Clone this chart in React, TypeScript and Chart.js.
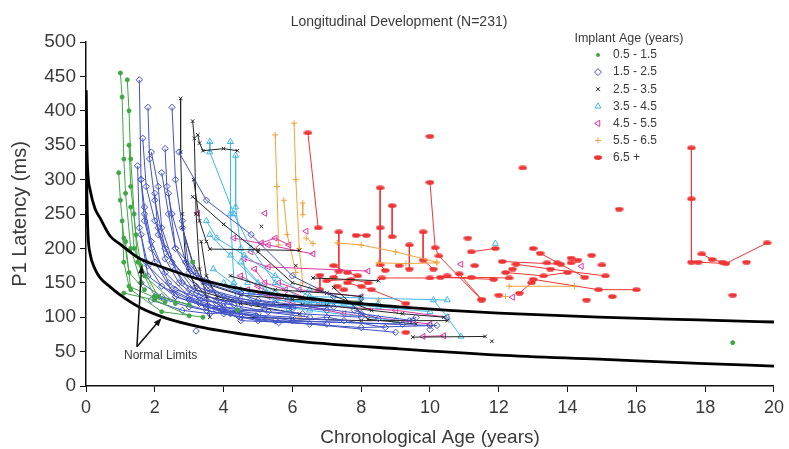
import React, { useEffect, useRef } from 'react';
import { Chart, registerables } from 'chart.js';

Chart.register(...registerables);

// ---------- Data (age in years, P1 latency in ms) ----------
const TITLE = 'Longitudinal Development (N=231)';
const X_TITLE = 'Chronological Age (years)';
const Y_TITLE = 'P1 Latency (ms)';
const LEGEND_TITLE = 'Implant Age (years)';
const NOTE_TEXT = 'Normal Limits';

const X_MIN = 0;
const X_MAX = 20;
const X_STEP = 2;
const Y_MIN = 0;
const Y_MAX = 500;
const Y_STEP = 50;

const groupLabels = ['0.5 - 1.5', '1.5 - 2.5', '2.5 - 3.5', '3.5 - 4.5', '4.5 - 5.5', '5.5 - 6.5', '6.5 +'];

const upperLimit = [
  [0, 430], [0.03, 340], [0.06, 305], [0.12, 285], [0.26, 258], [0.4, 245], [0.7, 218], [1.0, 206],
  [1.57, 185], [2.14, 174], [3.3, 155], [4.75, 139], [6.2, 129], [7.65, 121], [9.1, 115],
  [10.55, 110], [12, 106], [14.9, 100], [17.8, 96], [20, 93],
];

const lowerLimit = [
  [0, 430], [0.02, 300], [0.04, 250], [0.06, 218], [0.12, 192], [0.26, 170], [0.4, 158], [0.7, 144],
  [1.0, 132], [1.57, 114], [2.3, 99], [3.3, 86], [4.75, 74], [6.2, 65], [9.1, 54], [12, 45],
  [14.9, 39], [17.8, 33], [20, 29],
];

const green = [
  [[1.0, 455], [1.05, 420], [1.1, 330], [1.15, 280], [1.3, 200], [1.6, 150]],
  [[1.2, 445], [1.25, 400], [1.3, 330], [1.4, 250], [1.5, 180], [2.0, 130]],
  [[0.95, 310], [1.0, 270], [1.1, 215], [1.25, 165], [1.7, 140]],
  [[1.05, 240], [1.1, 180], [1.25, 145], [2.3, 122]],
  [[1.25, 350], [1.3, 290], [1.45, 220], [1.6, 175], [2.1, 130], [3.0, 118]],
  [[1.15, 210], [1.3, 140], [2.2, 108], [3.4, 100]],
  [[1.1, 135], [2.0, 125], [3.0, 102]],
  [[1.3, 260], [1.4, 200], [1.7, 160], [2.6, 120]],
  [[3.1, 180]],
  [[18.8, 63]],
  [[4.4, 110]],
];

const blue = [
  [[1.55, 445], [1.6, 300], [1.7, 240], [2.0, 180], [2.6, 130], [3.5, 115], [5.0, 105]],
  [[1.8, 405], [1.85, 330], [2.0, 270], [2.3, 200], [2.8, 150], [3.8, 125], [6.0, 112]],
  [[2.5, 405], [2.6, 300], [2.8, 230], [3.2, 160], [4.0, 130], [5.5, 120]],
  [[2.3, 345], [2.35, 290], [2.5, 250], [2.9, 180], [3.5, 140], [4.8, 120], [7.0, 110]],
  [[1.6, 300], [1.7, 260], [1.9, 210], [2.4, 150], [3.3, 120], [4.5, 110], [8.0, 100]],
  [[1.9, 340], [2.1, 290], [2.2, 230], [2.6, 170], [3.0, 140], [4.0, 115], [6.5, 100]],
  [[1.5, 320], [1.55, 230], [1.8, 175], [2.5, 140], [3.5, 115], [5.5, 95], [9.2, 90]],
  [[2.0, 280], [2.1, 220], [2.5, 180], [3.2, 145], [4.2, 125], [6.0, 115]],
  [[1.7, 250], [1.9, 200], [2.3, 165], [3.0, 130], [4.0, 110], [6.0, 95], [10.0, 88]],
  [[2.2, 310], [2.4, 250], [2.6, 200], [3.0, 165], [4.5, 135], [5.8, 130]],
  [[1.6, 220], [1.8, 160], [2.6, 130], [3.8, 110], [5.0, 100], [7.5, 95]],
  [[2.4, 280], [2.6, 200], [3.5, 150], [5.0, 125], [8.0, 105], [9.5, 95]],
  [[1.75, 180], [2.2, 145], [3.0, 125], [4.2, 105], [6.0, 100]],
  [[2.8, 240], [3.0, 170], [3.6, 140], [5.2, 118], [7.2, 115]],
  [[1.6, 150], [2.2, 130], [3.5, 110], [5.0, 95], [8.0, 85], [10.2, 88]],
  [[2.0, 130], [3.0, 115], [4.5, 100], [6.5, 90], [9.0, 78]],
  [[3.3, 130], [4.0, 105], [5.6, 92], [7.0, 100], [8.7, 85]],
  [[2.6, 140], [3.8, 120], [4.5, 95], [7.0, 90]],
  [[2.7, 340], [3.5, 270], [4.8, 220], [6.0, 160], [7.2, 130]],
  [[1.65, 360], [1.75, 290], [2.0, 240], [2.4, 190], [3.2, 135], [4.3, 118]],
  [[2.1, 230], [2.3, 185], [2.7, 150], [3.3, 125], [4.0, 120], [5.3, 108]],
  [[1.9, 125], [2.8, 110], [3.6, 105], [5.2, 112], [6.3, 105]],
  [[3.2, 80]],
  [[9.4, 95], [9.6, 100]],
  [[10.0, 82]],
  [[7.8, 110], [8.5, 98]],
];

const black = [
  [[2.75, 418], [2.75, 340], [2.8, 250], [2.9, 180], [3.2, 140], [4.5, 120], [6.2, 105]],
  [[3.1, 385], [3.15, 360], [3.2, 250], [3.3, 170], [3.5, 130], [3.6, 100]],
  [[3.25, 365], [3.3, 353], [3.4, 342], [4.0, 345], [4.4, 342]],
  [[3.13, 300], [3.3, 240], [3.5, 210], [3.6, 199], [5.0, 198], [6.2, 197]],
  [[3.1, 275], [4.0, 235], [5.0, 195], [6.0, 150], [7.0, 135], [8.3, 110]],
  [[2.8, 230], [3.1, 180], [3.4, 150], [4.5, 132], [6.0, 126], [8.0, 123]],
  [[3.35, 210], [3.5, 160], [3.8, 130], [5.0, 118], [6.3, 118]],
  [[3.0, 160], [3.5, 130], [4.5, 120], [7.0, 117], [9.2, 105], [10.4, 100]],
  [[6.6, 157], [8.5, 153]],
  [[7.2, 143], [8.2, 97], [9.6, 90]],
  [[9.5, 71], [11.6, 72]],
  [[4.5, 100], [6.0, 98], [8.0, 95], [10.5, 95]],
  [[5.1, 232]],
  [[11.8, 65]],
  [[6.1, 175]],
  [[4.2, 160], [5.5, 140], [7.0, 135], [8.0, 130]],
];

const cyan = [
  [[3.6, 355], [3.6, 340], [4.3, 250], [4.8, 200], [5.5, 150], [6.5, 120]],
  [[4.2, 355], [4.2, 250], [4.3, 150], [4.4, 110]],
  [[4.35, 335], [4.35, 260], [4.5, 200], [4.7, 150]],
  [[3.5, 240], [3.8, 215], [4.6, 190], [5.5, 160], [6.5, 130], [7.5, 120]],
  [[3.6, 220], [4.2, 190], [5.0, 150], [6.0, 125], [8.5, 115], [10.0, 108]],
  [[4.5, 180], [5.2, 140], [6.3, 120], [7.8, 115]],
  [[3.7, 170], [4.5, 140], [5.5, 125], [7.0, 120], [8.5, 120]],
  [[4.0, 150], [5.0, 120], [6.5, 110], [9.0, 95]],
  [[10.1, 125], [10.5, 100], [10.9, 72]],
  [[6.5, 130], [8.0, 128], [10.5, 125]],
  [[11.9, 207]],
  [[4.8, 135]],
  [[5.9, 112], [6.5, 140]],
];

const magenta = [
  [[4.8, 195], [5.1, 208], [5.5, 215], [5.9, 205]],
  [[4.3, 215], [5.3, 205], [6.6, 192]],
  [[4.6, 185], [5.3, 173], [8.2, 167]],
  [[4.5, 160], [5.0, 145], [5.5, 130], [6.5, 118], [9.0, 110], [10.5, 100]],
  [[4.7, 140], [5.3, 130], [6.0, 120], [7.5, 105], [10.0, 90]],
  [[4.9, 170], [5.2, 150], [5.8, 140], [6.8, 120]],
  [[5.6, 150], [6.2, 140], [8.0, 130]],
  [[9.8, 72], [10.4, 73]],
  [[5.2, 251]],
  [[3.25, 251]],
  [[10.9, 177]],
  [[12.4, 129]],
  [[14.4, 174]],
  [[6.4, 225]],
];

const orange = [
  [[5.5, 365], [5.55, 290], [5.6, 205]],
  [[6.05, 382], [6.1, 300], [6.2, 200], [6.3, 150]],
  [[5.75, 270], [5.85, 220], [6.1, 165]],
  [[6.3, 266], [6.3, 249]],
  [[6.4, 215], [6.6, 207]],
  [[7.3, 208], [8.0, 205], [9.0, 195], [10.2, 180]],
  [[8.5, 179], [9.3, 178], [10.2, 179]],
  [[12.3, 145], [14.2, 145]],
  [[8.5, 125]],
  [[12.2, 130]],
  [[6.2, 100]],
];

const red = [
  [[6.45, 368], [6.75, 230]],
  [[10.0, 363]],
  [[10.0, 296], [10.15, 201], [10.26, 189], [11.5, 125]],
  [[8.55, 288], [8.55, 230], [8.55, 176], [8.7, 168]],
  [[8.9, 262], [8.9, 217]],
  [[7.35, 224], [7.35, 167], [7.2, 158]],
  [[7.85, 219], [8.15, 219]],
  [[9.8, 224], [9.8, 183], [10.1, 170]],
  [[9.4, 205], [9.4, 170]],
  [[6.8, 161], [6.8, 140]],
  [[7.2, 175], [7.6, 165], [7.9, 160]],
  [[7.0, 153], [7.7, 155], [8.2, 150]],
  [[7.6, 150], [8.3, 140], [9.3, 120]],
  [[8.6, 157], [10.0, 157], [11.2, 158], [12.3, 157]],
  [[10.3, 158], [11.85, 155]],
  [[10.85, 163], [11.5, 126]],
  [[12.1, 181], [13.8, 177]],
  [[12.5, 177], [13.5, 170], [15.1, 160]],
  [[13.2, 193], [14.5, 158]],
  [[12.6, 135], [12.95, 150]],
  [[13.0, 155], [14.9, 140], [16.0, 140]],
  [[11.2, 195], [11.9, 200]],
  [[12.2, 165], [13.3, 160], [14.0, 165]],
  [[14.1, 186], [14.3, 183]],
  [[17.6, 346], [17.6, 272], [17.6, 180], [17.8, 180], [18.6, 178], [19.8, 208]],
  [[17.9, 192], [18.2, 184], [18.5, 180]],
  [[12.7, 317]], [[15.5, 257]], [[19.2, 180]], [[18.8, 132]], [[9.3, 78]], [[11.1, 215]],
  [[13.0, 200]], [[14.7, 190]], [[12.0, 132]], [[10.5, 160]], [[9.1, 175]], [[11.3, 175]],
  [[12.4, 170]], [[15.3, 130]], [[14.55, 125]], [[13.4, 179]], [[13.7, 179]], [[14.1, 179]],
  [[15.0, 176]], [[7.3, 145]], [[7.5, 140]], [[8.0, 145]],
];

// annotation anchors in data units
const noteTextAt = [2.17, 44];
const noteArrowBase = [1.48, 57];
const noteArrowTips = [[1.62, 176], [2.2, 99]];

// ---------- Styles ----------
const FONT = '"Liberation Sans", Arial, Helvetica, sans-serif';
const TEXT = '#3a3a3a';

type Kind = 'dot' | 'diamond' | 'x' | 'tri' | 'triLeft' | 'plus' | 'ellipse';
const groupStyles: { color: string; kind: Kind }[] = [
  { color: '#3fa645', kind: 'dot' },
  { color: '#4151c4', kind: 'diamond' },
  { color: '#222222', kind: 'x' },
  { color: '#41b6e6', kind: 'tri' },
  { color: '#e0359f', kind: 'triLeft' },
  { color: '#f2a33a', kind: 'plus' },
  { color: '#ef3535', kind: 'ellipse' },
];
const groupData = [green, blue, black, cyan, magenta, orange, red];

function drawMarker(ctx: CanvasRenderingContext2D, kind: Kind, x: number, y: number, color: string) {
  ctx.save();
  ctx.strokeStyle = color;
  ctx.fillStyle = color;
  ctx.lineWidth = 1;
  ctx.beginPath();
  if (kind === 'dot') {
    ctx.arc(x, y, 2, 0, Math.PI * 2);
    ctx.fill();
  } else if (kind === 'diamond') {
    const r = 3.5;
    ctx.moveTo(x, y - r); ctx.lineTo(x + r, y); ctx.lineTo(x, y + r); ctx.lineTo(x - r, y); ctx.closePath();
    ctx.stroke();
  } else if (kind === 'x') {
    const r = 2;
    ctx.moveTo(x - r, y - r); ctx.lineTo(x + r, y + r); ctx.moveTo(x + r, y - r); ctx.lineTo(x - r, y + r);
    ctx.stroke();
  } else if (kind === 'tri') {
    const r = 3.5;
    ctx.moveTo(x, y - r); ctx.lineTo(x + r * 0.87, y + r * 0.5); ctx.lineTo(x - r * 0.87, y + r * 0.5); ctx.closePath();
    ctx.stroke();
  } else if (kind === 'triLeft') {
    const r = 3.5;
    ctx.moveTo(x - r, y); ctx.lineTo(x + r * 0.5, y - r * 0.87); ctx.lineTo(x + r * 0.5, y + r * 0.87); ctx.closePath();
    ctx.stroke();
  } else if (kind === 'plus') {
    const r = 3;
    ctx.moveTo(x - r, y); ctx.lineTo(x + r, y); ctx.moveTo(x, y - r); ctx.lineTo(x, y + r);
    ctx.stroke();
  } else {
    ctx.ellipse(x, y, 4, 2.3, 0, 0, Math.PI * 2);
    ctx.fill();
  }
  ctx.restore();
}

function makeEllipse(color: string) {
  const c = document.createElement('canvas');
  c.width = 9;
  c.height = 5;
  const g = c.getContext('2d')!;
  g.fillStyle = color;
  g.beginPath();
  g.ellipse(4.5, 2.5, 4.2, 2.3, 0, 0, Math.PI * 2);
  g.fill();
  return c;
}

const extrasPlugin = {
  id: 'extras',
  afterDraw(chart: any) {
    const { ctx, scales } = chart;
    const xs = scales.x;
    const ys = scales.y;
    ctx.save();
    // Title
    ctx.fillStyle = TEXT;
    ctx.font = `14px ${FONT}`;
    ctx.textAlign = 'center';
    ctx.textBaseline = 'middle';
    ctx.fillText(TITLE, 399, 22);

    // Legend
    ctx.font = `12.5px ${FONT}`;
    ctx.fillText(LEGEND_TITLE, 629, 39);
    ctx.font = `12px ${FONT}`;
    ctx.textAlign = 'left';
    groupLabels.forEach((lab, i) => {
      const yy = 55 + i * 17.1;
      drawMarker(ctx, groupStyles[i].kind, 598, yy, groupStyles[i].color);
      ctx.fillStyle = TEXT;
      ctx.fillText(lab, 613, yy);
    });

    // Normal limits annotation
    const bx = xs.getPixelForValue(noteArrowBase[0]);
    const by = ys.getPixelForValue(noteArrowBase[1]);
    ctx.strokeStyle = '#111';
    ctx.fillStyle = '#111';
    ctx.lineWidth = 1.5;
    noteArrowTips.forEach(([tx, ty]) => {
      const px = xs.getPixelForValue(tx);
      const py = ys.getPixelForValue(ty);
      const ang = Math.atan2(py - by, px - bx);
      const hl = 9;
      const hx = px - Math.cos(ang) * hl * 0.8;
      const hy = py - Math.sin(ang) * hl * 0.8;
      ctx.beginPath();
      ctx.moveTo(bx, by);
      ctx.lineTo(hx, hy);
      ctx.stroke();
      ctx.beginPath();
      ctx.moveTo(px, py);
      ctx.lineTo(px - Math.cos(ang - 0.35) * hl, py - Math.sin(ang - 0.35) * hl);
      ctx.lineTo(px - Math.cos(ang + 0.35) * hl, py - Math.sin(ang + 0.35) * hl);
      ctx.closePath();
      ctx.fill();
    });
    ctx.fillStyle = TEXT;
    ctx.font = `12px ${FONT}`;
    ctx.textAlign = 'center';
    ctx.fillText(NOTE_TEXT, xs.getPixelForValue(noteTextAt[0]), ys.getPixelForValue(noteTextAt[1]));
    ctx.restore();
  },
};

export default function App() {
  const ref = useRef<HTMLCanvasElement | null>(null);

  useEffect(() => {
    if (!ref.current) return;
    const ellipse = makeEllipse(groupStyles[6].color);
    const pointStyles: any[] = ['circle', 'rectRot', 'crossRot', 'triangle', 'triangle', 'cross', ellipse];
    const radii = [2, 3.2, 2.5, 3.5, 3.5, 3, 5];
    const rotations = [0, 0, 0, 0, -90, 0, 0];
    const filled = [true, false, false, false, false, false, true];

    const datasets: any[] = [
      {
        label: 'upper',
        data: upperLimit.map(([x, y]) => ({ x, y })),
        showLine: true,
        borderColor: '#000',
        borderWidth: 2.8,
        pointRadius: 0,
        cubicInterpolationMode: 'monotone',
      },
      {
        label: 'lower',
        data: lowerLimit.map(([x, y]) => ({ x, y })),
        showLine: true,
        borderColor: '#000',
        borderWidth: 2.8,
        pointRadius: 0,
        cubicInterpolationMode: 'monotone',
      },
    ];

    groupData.forEach((trajs, gi) => {
      const color = groupStyles[gi].color;
      trajs.forEach((t) => {
        datasets.push({
          label: groupLabels[gi],
          data: t.map(([x, y]) => ({ x, y })),
          showLine: t.length > 1,
          borderColor: color,
          borderWidth: 1,
          backgroundColor: filled[gi] ? color : 'rgba(255,255,255,0)',
          pointBackgroundColor: filled[gi] ? color : 'rgba(255,255,255,0)',
          pointBorderColor: color,
          pointBorderWidth: 1,
          pointStyle: pointStyles[gi],
          pointRadius: radii[gi],
          pointRotation: rotations[gi],
          tension: 0,
        });
      });
    });

    const chart = new Chart(ref.current, {
      type: 'scatter',
      data: { datasets },
      options: {
        animation: false,
        responsive: true,
        maintainAspectRatio: false,
        layout: { padding: { left: 6, right: 13, top: 42, bottom: 0 } },
        plugins: {
          legend: { display: false },
          tooltip: { enabled: false },
          title: { display: false },
        },
        scales: {
          x: {
            type: 'linear',
            min: X_MIN,
            max: X_MAX,
            border: { color: '#111', width: 1.5 },
            grid: { drawOnChartArea: false, drawTicks: true, tickLength: 6, color: '#111' },
            ticks: {
              stepSize: X_STEP,
              color: TEXT,
              padding: 5,
              font: { family: FONT, size: 18 },
            },
            title: {
              display: true,
              text: X_TITLE,
              color: TEXT,
              font: { family: FONT, size: 19 },
              padding: { top: 0, bottom: 0 },
            },
            afterFit: (s: any) => { s.height = 63; },
          },
          y: {
            type: 'linear',
            min: Y_MIN,
            max: Y_MAX,
            border: { color: '#111', width: 1.5 },
            grid: { drawOnChartArea: false, drawTicks: true, tickLength: 6, color: '#111' },
            ticks: {
              stepSize: Y_STEP,
              color: TEXT,
              padding: 4,
              font: { family: FONT, size: 19 },
            },
            title: {
              display: true,
              text: Y_TITLE,
              color: TEXT,
              font: { family: FONT, size: 20 },
              padding: { top: 2, bottom: 0 },
            },
            afterFit: (s: any) => { s.width = 80; },
          },
        },
      } as any,
      plugins: [extrasPlugin],
    });
    return () => chart.destroy();
  }, []);

  return (
    <div style={{ position: 'absolute', left: 0, top: 0, width: 789, height: 449, background: '#fff' }}>
      <canvas ref={ref} />
    </div>
  );
}
